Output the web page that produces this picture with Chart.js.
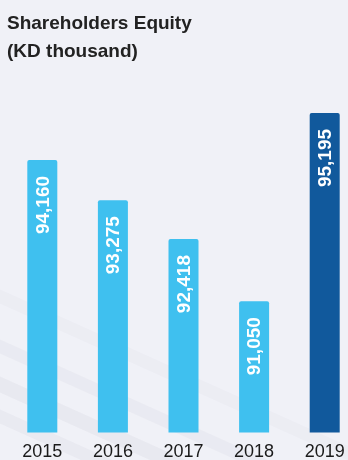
<!DOCTYPE html>
<html>
<head>
<meta charset="utf-8">
<script src="https://cdn.jsdelivr.net/npm/chart.js@4/dist/chart.umd.min.js"></script>
<style>
html,body{margin:0;padding:0;background:#f0f1f7;overflow:hidden;}
#wrap{position:absolute;left:0;top:0;width:360px;height:464px;}
</style>
</head>
<body>
<div id="wrap"><canvas id="c"></canvas></div>
<script>
const years = ['2015','2016','2017','2018','2019'];
const equity = [94160, 93275, 92418, 91050, 95195];
const barColors = ['#3fc0ef','#3fc0ef','#3fc0ef','#3fc0ef','#11599c'];
const titleLines = ['Shareholders Equity','(KD thousand)'];

const FONT = '"Liberation Sans", Arial, sans-serif';

const bgPlugin = {
  id:'bg',
  beforeDraw(chart){
    const ctx = chart.ctx;
    ctx.save();
    ctx.fillStyle = '#f0f1f7';
    ctx.fillRect(0,0,chart.width,chart.height);
    const bands = [[285,14,0.08],[335,14,0.12],[372,16,0.16],[405,14,0.14]];
    bands.forEach(([y0,h,a])=>{
      ctx.beginPath();
      ctx.moveTo(-10,y0);
      ctx.lineTo(370,y0+171);
      ctx.lineTo(370,y0+171+h);
      ctx.lineTo(-10,y0+h);
      ctx.closePath();
      ctx.fillStyle='rgba(190,193,205,'+a+')';
      ctx.fill();
    });
    ctx.restore();
  }
};

const titlePlugin = {
  id:'ttl',
  afterDraw(chart){
    const ctx = chart.ctx;
    ctx.save();
    ctx.fillStyle = '#222222';
    ctx.font = 'bold 19px ' + FONT;
    ctx.textAlign = 'left';
    ctx.textBaseline = 'alphabetic';
    ctx.fillText(titleLines[0], 7, 29);
    ctx.fillText(titleLines[1], 7, 57);
    ctx.restore();
  }
};

const labelPlugin = {
  id:'vlabels',
  afterDatasetsDraw(chart){
    const ctx = chart.ctx;
    const meta = chart.getDatasetMeta(0);
    ctx.save();
    ctx.fillStyle = '#ffffff';
    ctx.font = 'bold 19px ' + FONT;
    ctx.textAlign = 'right';
    ctx.textBaseline = 'middle';
    meta.data.forEach((bar,i)=>{
      ctx.save();
      ctx.translate(bar.x+1, bar.y+16);
      ctx.rotate(-Math.PI/2);
      ctx.fillText(equity[i].toLocaleString('en-US'),0,0);
      ctx.restore();
    });
    ctx.restore();
  }
};

new Chart(document.getElementById('c'),{
  type:'bar',
  data:{
    labels: years,
    datasets:[{
      data: equity,
      backgroundColor: barColors,
      borderRadius: 2,
      borderSkipped: false,
      categoryPercentage: 0.85,
      barPercentage: 0.5
    }]
  },
  options:{
    responsive:true,
    maintainAspectRatio:false,
    animation:false,
    layout:{padding:{left:7,right:0,top:100,bottom:0}},
    plugins:{
      legend:{display:false},
      tooltip:{enabled:false},
      title:{display:false}
    },
    scales:{
      x:{
        grid:{display:false},
        border:{display:false},
        ticks:{color:'#1a1a1a',font:{family:FONT,size:18},padding:1}
      },
      y:{
        display:false,
        min:88160,
        max:95480
      }
    }
  },
  plugins:[bgPlugin,labelPlugin,titlePlugin]
});
</script>
</body>
</html>
